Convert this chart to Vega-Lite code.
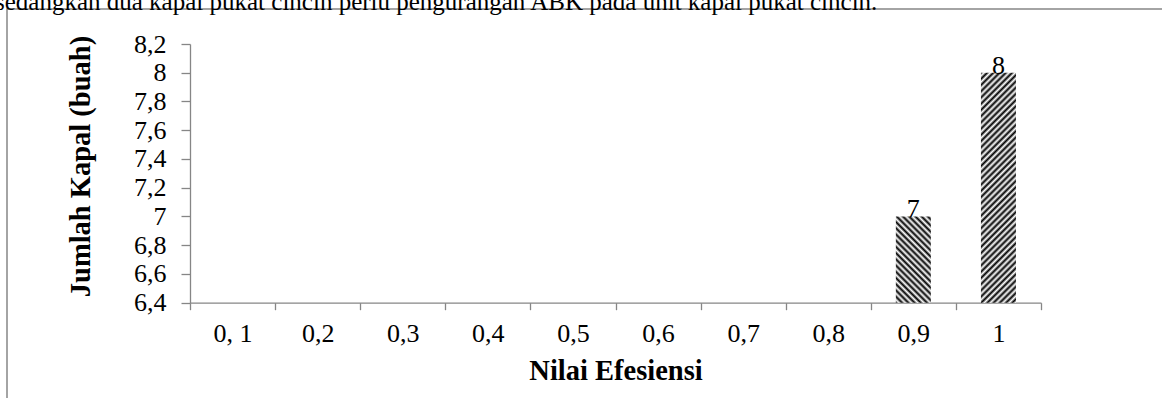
{
  "$schema": "https://vega.github.io/schema/vega-lite/v6.json",
  "width": 1162,
  "height": 400,
  "autosize": {"type": "none"},
  "padding": {"left": 7, "top": 9, "right": 0, "bottom": 0},
  "background": "white",
  "title": {
    "text": "sedangkan dua kapal pukat cincin perlu pengurangan ABK pada unit kapal pukat cincin.",
    "anchor": "start",
    "frame": "group",
    "font": "Liberation Serif",
    "fontSize": 25,
    "fontWeight": "normal",
    "color": "#000000",
    "baseline": "alphabetic",
    "offset": 0,
    "dy": 26,
    "dx": -12
  },
  "data": {
    "values": [
      {"nilai": "0,9", "jumlah": 7},
      {"nilai": "1", "jumlah": 8}
    ]
  },
  "encoding": {
    "x": {
      "field": "nilai",
      "type": "nominal",
      "scale": {
        "domain": ["0, 1", "0,2", "0,3", "0,4", "0,5", "0,6", "0,7", "0,8", "0,9", "1"],
        "range": [183, 1034],
        "paddingInner": 0,
        "paddingOuter": 0
      },
      "axis": {
        "title": "Nilai Efesiensi",
        "orient": "bottom",
        "offset": -106.3,
        "grid": false,
        "tickBand": "extent",
        "tickSize": 7,
        "tickColor": "#868686",
        "tickWidth": 1.3,
        "domainColor": "#868686",
        "domainWidth": 1.3,
        "labelAngle": 0,
        "labelFont": "Liberation Serif",
        "labelFontSize": 26,
        "labelColor": "#000000",
        "labelBaseline": "alphabetic",
        "labelPadding": 32,
        "titleFont": "Liberation Serif",
        "titleFontSize": 28.5,
        "titleFontWeight": "bold",
        "titleColor": "#000000",
        "titleBaseline": "alphabetic",
        "titleY": 77
      }
    },
    "y": {
      "field": "jumlah",
      "type": "quantitative",
      "scale": {"domain": [6.4, 8.2], "range": [293.7, 35], "zero": false, "nice": false},
      "axis": {
        "title": "Jumlah Kapal (buah)",
        "orient": "left",
        "offset": -183,
        "grid": false,
        "values": [6.4, 6.6, 6.8, 7, 7.2, 7.4, 7.6, 7.8, 8, 8.2],
        "format": "~g",
        "labelExpr": "replace(datum.label, '.', ',')",
        "labelOverlap": false,
        "tickSize": 9,
        "tickColor": "#868686",
        "tickWidth": 1.3,
        "domainColor": "#868686",
        "domainWidth": 1.3,
        "labelFont": "Liberation Serif",
        "labelFontSize": 26,
        "labelColor": "#000000",
        "labelPadding": 15,
        "titleFont": "Liberation Serif",
        "titleFontSize": 28.5,
        "titleFontWeight": "bold",
        "titleColor": "#000000",
        "titleAngle": -90,
        "titleAlign": "center",
        "titleBaseline": "alphabetic",
        "titleX": -101,
        "titleY": 157
      }
    }
  },
  "layer": [
    {
      "transform": [{"filter": "datum.nilai === '0,9'"}],
      "mark": {
        "type": "bar",
        "size": 35,
        "fill": {
          "gradient": "linear",
          "x1": 0, "y1": 1, "x2": 1.5716, "y2": -2.872,
          "stops": [
            {"offset": 0, "color": "#000"}, {"offset": 0.008, "color": "#fff"},
            {"offset": 0.016, "color": "#000"}, {"offset": 0.024, "color": "#fff"},
            {"offset": 0.032, "color": "#000"}, {"offset": 0.04, "color": "#fff"},
            {"offset": 0.048, "color": "#000"}, {"offset": 0.056, "color": "#fff"},
            {"offset": 0.064, "color": "#000"}, {"offset": 0.072, "color": "#fff"},
            {"offset": 0.08, "color": "#000"}, {"offset": 0.088, "color": "#fff"},
            {"offset": 0.096, "color": "#000"}, {"offset": 0.104, "color": "#fff"},
            {"offset": 0.112, "color": "#000"}, {"offset": 0.12, "color": "#fff"},
            {"offset": 0.128, "color": "#000"}, {"offset": 0.136, "color": "#fff"},
            {"offset": 0.144, "color": "#000"}, {"offset": 0.152, "color": "#fff"},
            {"offset": 0.16, "color": "#000"}, {"offset": 0.168, "color": "#fff"},
            {"offset": 0.176, "color": "#000"}, {"offset": 0.184, "color": "#fff"},
            {"offset": 0.192, "color": "#000"}, {"offset": 0.2, "color": "#fff"},
            {"offset": 0.208, "color": "#000"}, {"offset": 0.216, "color": "#fff"},
            {"offset": 0.224, "color": "#000"}, {"offset": 0.232, "color": "#fff"},
            {"offset": 0.24, "color": "#000"}, {"offset": 0.248, "color": "#fff"},
            {"offset": 0.256, "color": "#000"}, {"offset": 0.264, "color": "#fff"},
            {"offset": 0.272, "color": "#000"}, {"offset": 0.28, "color": "#fff"},
            {"offset": 0.288, "color": "#000"}, {"offset": 0.296, "color": "#fff"},
            {"offset": 0.304, "color": "#000"}, {"offset": 0.312, "color": "#fff"},
            {"offset": 0.32, "color": "#000"}, {"offset": 0.328, "color": "#fff"},
            {"offset": 0.336, "color": "#000"}, {"offset": 0.344, "color": "#fff"},
            {"offset": 0.352, "color": "#000"}, {"offset": 0.36, "color": "#fff"},
            {"offset": 0.368, "color": "#000"}, {"offset": 0.376, "color": "#fff"},
            {"offset": 0.384, "color": "#000"}, {"offset": 0.392, "color": "#fff"},
            {"offset": 0.4, "color": "#000"}
          ]
        }
      },
      "encoding": {"y2": {"datum": 6.4}}
    },
    {
      "transform": [{"filter": "datum.nilai === '1'"}],
      "mark": {
        "type": "bar",
        "size": 35,
        "fill": {
          "gradient": "linear",
          "x1": 0, "y1": 0, "x2": 0.2516, "y2": 1.6529,
          "stops": [
            {"offset": 0, "color": "#000"}, {"offset": 0.008, "color": "#fff"},
            {"offset": 0.016, "color": "#000"}, {"offset": 0.024, "color": "#fff"},
            {"offset": 0.032, "color": "#000"}, {"offset": 0.04, "color": "#fff"},
            {"offset": 0.048, "color": "#000"}, {"offset": 0.056, "color": "#fff"},
            {"offset": 0.064, "color": "#000"}, {"offset": 0.072, "color": "#fff"},
            {"offset": 0.08, "color": "#000"}, {"offset": 0.088, "color": "#fff"},
            {"offset": 0.096, "color": "#000"}, {"offset": 0.104, "color": "#fff"},
            {"offset": 0.112, "color": "#000"}, {"offset": 0.12, "color": "#fff"},
            {"offset": 0.128, "color": "#000"}, {"offset": 0.136, "color": "#fff"},
            {"offset": 0.144, "color": "#000"}, {"offset": 0.152, "color": "#fff"},
            {"offset": 0.16, "color": "#000"}, {"offset": 0.168, "color": "#fff"},
            {"offset": 0.176, "color": "#000"}, {"offset": 0.184, "color": "#fff"},
            {"offset": 0.192, "color": "#000"}, {"offset": 0.2, "color": "#fff"},
            {"offset": 0.208, "color": "#000"}, {"offset": 0.216, "color": "#fff"},
            {"offset": 0.224, "color": "#000"}, {"offset": 0.232, "color": "#fff"},
            {"offset": 0.24, "color": "#000"}, {"offset": 0.248, "color": "#fff"},
            {"offset": 0.256, "color": "#000"}, {"offset": 0.264, "color": "#fff"},
            {"offset": 0.272, "color": "#000"}, {"offset": 0.28, "color": "#fff"},
            {"offset": 0.288, "color": "#000"}, {"offset": 0.296, "color": "#fff"},
            {"offset": 0.304, "color": "#000"}, {"offset": 0.312, "color": "#fff"},
            {"offset": 0.32, "color": "#000"}, {"offset": 0.328, "color": "#fff"},
            {"offset": 0.336, "color": "#000"}, {"offset": 0.344, "color": "#fff"},
            {"offset": 0.352, "color": "#000"}, {"offset": 0.36, "color": "#fff"},
            {"offset": 0.368, "color": "#000"}, {"offset": 0.376, "color": "#fff"},
            {"offset": 0.384, "color": "#000"}, {"offset": 0.392, "color": "#fff"},
            {"offset": 0.4, "color": "#000"}, {"offset": 0.408, "color": "#fff"},
            {"offset": 0.416, "color": "#000"}, {"offset": 0.424, "color": "#fff"},
            {"offset": 0.432, "color": "#000"}, {"offset": 0.44, "color": "#fff"},
            {"offset": 0.448, "color": "#000"}, {"offset": 0.456, "color": "#fff"},
            {"offset": 0.464, "color": "#000"}, {"offset": 0.472, "color": "#fff"},
            {"offset": 0.48, "color": "#000"}, {"offset": 0.488, "color": "#fff"},
            {"offset": 0.496, "color": "#000"}, {"offset": 0.504, "color": "#fff"},
            {"offset": 0.512, "color": "#000"}, {"offset": 0.52, "color": "#fff"},
            {"offset": 0.528, "color": "#000"}, {"offset": 0.536, "color": "#fff"},
            {"offset": 0.544, "color": "#000"}, {"offset": 0.552, "color": "#fff"},
            {"offset": 0.56, "color": "#000"}, {"offset": 0.568, "color": "#fff"},
            {"offset": 0.576, "color": "#000"}, {"offset": 0.584, "color": "#fff"},
            {"offset": 0.592, "color": "#000"}, {"offset": 0.6, "color": "#fff"},
            {"offset": 0.608, "color": "#000"}, {"offset": 0.616, "color": "#fff"},
            {"offset": 0.624, "color": "#000"}, {"offset": 0.632, "color": "#fff"},
            {"offset": 0.64, "color": "#000"}, {"offset": 0.648, "color": "#fff"},
            {"offset": 0.656, "color": "#000"}, {"offset": 0.664, "color": "#fff"},
            {"offset": 0.672, "color": "#000"}, {"offset": 0.68, "color": "#fff"},
            {"offset": 0.688, "color": "#000"}, {"offset": 0.696, "color": "#fff"},
            {"offset": 0.704, "color": "#000"}, {"offset": 0.712, "color": "#fff"},
            {"offset": 0.72, "color": "#000"}
          ]
        }
      },
      "encoding": {"y2": {"datum": 6.4}}
    },
    {
      "mark": {
        "type": "text",
        "font": "Liberation Serif",
        "fontSize": 26,
        "baseline": "alphabetic",
        "align": "center",
        "dy": 1,
        "color": "#000000"
      },
      "encoding": {"text": {"field": "jumlah", "type": "quantitative"}}
    }
  ],
  "config": {
    "view": {"stroke": "#878787", "strokeWidth": 1.5}
  }
}
